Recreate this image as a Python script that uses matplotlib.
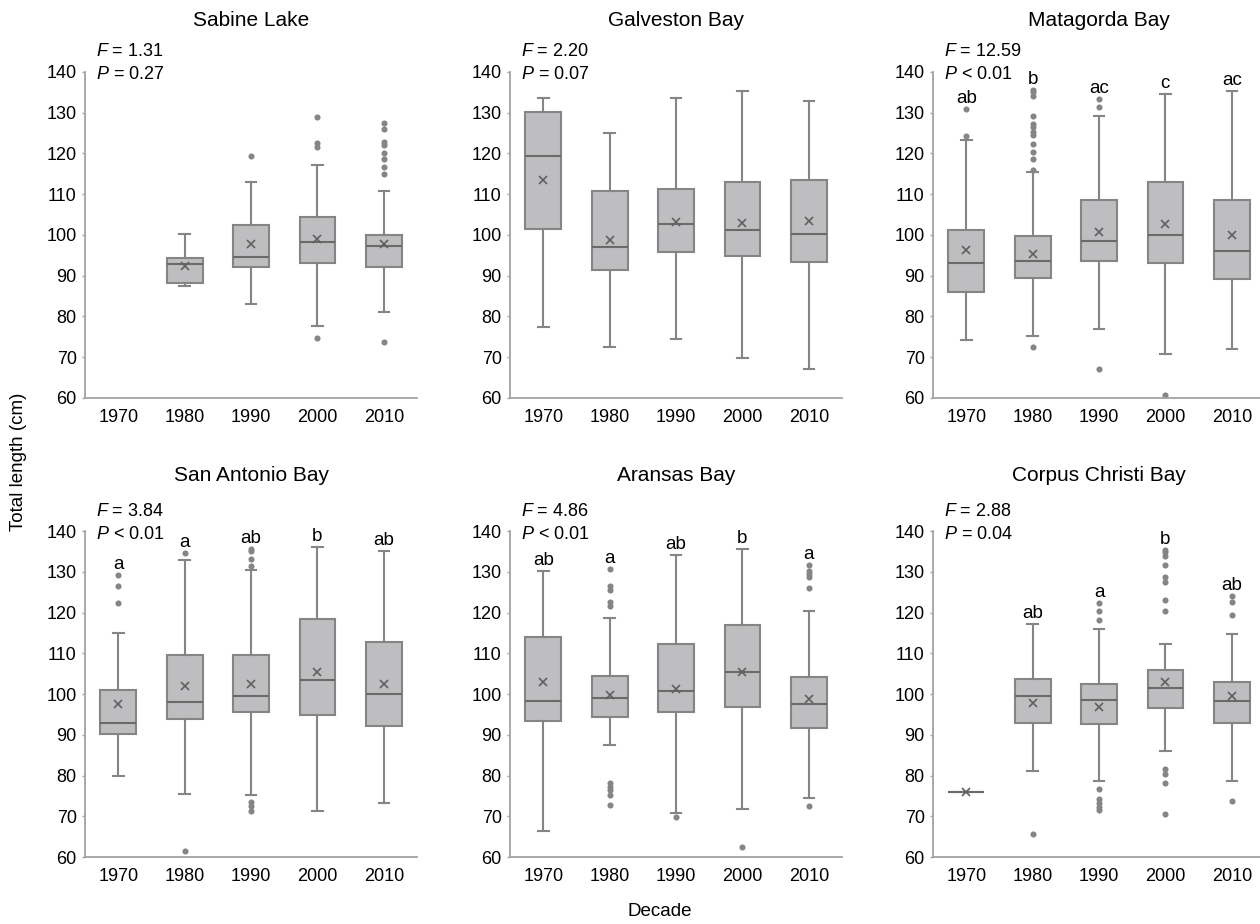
import matplotlib
matplotlib.use("Agg")
import matplotlib.pyplot as plt

plt.rcParams['font.family'] = ['Liberation Sans', 'DejaVu Sans']
plt.rcParams['mathtext.fontset'] = 'custom'
plt.rcParams['mathtext.rm'] = 'Liberation Sans'
plt.rcParams['mathtext.it'] = 'Liberation Sans:italic'

bays = ["Sabine Lake", "Galveston Bay", "Matagorda Bay",
        "San Antonio Bay", "Aransas Bay", "Corpus Christi Bay"]
decades = ["1970", "1980", "1990", "2000", "2010"]
f_values = ["1.31", "2.20", "12.59", "3.84", "4.86", "2.88"]
p_values = ["= 0.27", "= 0.07", "< 0.01", "< 0.01", "< 0.01", "= 0.04"]

# letters of the post-hoc groups, per bay and decade
letters = [
    [None, None, None, None, None],
    [None, None, None, None, None],
    ["ab", "b", "ac", "c", "ac"],
    ["a", "a", "ab", "b", "ab"],
    ["ab", "a", "ab", "b", "a"],
    [None, "ab", "a", "b", "ab"],
]

# box statistics (cm), rows = bays, cols = decades
whis_lo = [
    [None, 87.5, 83.1, 77.7, 81.0],
    [77.3, 72.5, 74.5, 69.9, 67.1],
    [74.3, 75.1, 76.9, 70.8, 71.9],
    [79.9, 75.4, 75.1, 71.3, 73.3],
    [66.4, 87.6, 70.7, 71.7, 74.5],
    [76.0, 81.2, 78.6, 85.9, 78.6],
]
q1 = [
    [None, 88.3, 92.2, 93.2, 92.2],
    [101.5, 91.5, 95.8, 94.9, 93.4],
    [86.1, 89.5, 93.7, 93.0, 89.3],
    [90.3, 93.9, 95.5, 94.8, 92.2],
    [93.5, 94.3, 95.5, 96.8, 91.7],
    [76.0, 92.9, 92.6, 96.6, 93.0],
]
medians = [
    [None, 92.8, 94.7, 98.2, 97.4],
    [119.5, 97.0, 102.8, 101.2, 100.3],
    [93.0, 93.7, 98.4, 99.9, 96.0],
    [92.9, 98.1, 99.6, 103.4, 100.0],
    [98.4, 99.0, 100.7, 105.3, 97.6],
    [76.0, 99.6, 98.6, 101.5, 98.3],
]
q3 = [
    [None, 94.4, 102.5, 104.4, 99.9],
    [130.1, 110.8, 111.2, 113.0, 113.4],
    [101.3, 99.7, 108.7, 113.1, 108.7],
    [101.1, 109.6, 109.6, 118.4, 112.8],
    [114.1, 104.3, 112.2, 116.9, 104.1],
    [76.0, 103.8, 102.5, 105.8, 102.9],
]
whis_hi = [
    [None, 100.2, 113.0, 117.2, 110.8],
    [133.5, 125.0, 133.5, 135.4, 133.0],
    [123.3, 115.4, 129.2, 134.5, 135.4],
    [114.9, 133.0, 130.4, 136.2, 135.2],
    [130.3, 118.6, 134.1, 135.7, 120.4],
    [76.0, 117.3, 116.0, 112.3, 114.8],
]
means = [
    [None, 92.4, 97.7, 99.0, 97.9],
    [113.5, 98.7, 103.1, 102.9, 103.4],
    [96.3, 95.4, 100.8, 102.6, 99.9],
    [97.5, 102.0, 102.4, 105.3, 102.4],
    [103.0, 99.8, 101.3, 105.4, 98.8],
    [76.0, 97.9, 96.8, 103.0, 99.6],
]
outliers = [
    [[], [], [119.3], [129.0, 122.5, 121.7, 74.8],
     [127.6, 126.1, 122.7, 122.0, 120.1, 118.6, 116.8, 115.0, 73.8]],
    [[], [], [], [], []],
    [[130.8, 124.3],
     [135.5, 135.0, 134.2, 129.1, 127.2, 126.4, 125.2, 124.5, 122.3, 120.3,
      118.7, 116.0, 72.6],
     [133.3, 131.3, 67.2], [60.8], []],
    [[129.1, 126.5, 122.3], [134.5, 61.4],
     [135.7, 135.0, 133.2, 131.5, 73.5, 72.4, 71.2], [], []],
    [[], [130.8, 126.4, 125.6, 122.7, 121.5, 78.2, 77.2, 76.4, 75.3, 72.8],
     [69.7], [62.4], [131.7, 130.1, 129.4, 128.7, 126.0, 72.6]],
    [[], [65.6], [122.3, 120.4, 118.2, 76.8, 74.3, 73.2, 72.3, 71.5],
     [135.4, 134.8, 133.9, 131.7, 128.7, 127.5, 123.1, 120.3, 81.6, 80.3, 78.1, 70.5],
     [124.1, 122.5, 119.5, 73.7]],
]

box_fill = "#bebec1"
line_col = "#858585"
spine_col = "#a3a3a3"

fig = plt.figure(figsize=(12.6, 9.24), dpi=100)
lefts = [0.0675, 0.4048, 0.7405]
bottoms = [0.5693, 0.0725]
title_pads = [33, 36]

for i, bay in enumerate(bays):
    ax = fig.add_axes([lefts[i % 3], bottoms[i // 3], 0.2635, 0.3528])
    stats = []
    pos = []
    for j in range(len(decades)):
        if medians[i][j] is None:
            continue
        stats.append(dict(whislo=whis_lo[i][j], q1=q1[i][j], med=medians[i][j],
                          q3=q3[i][j], whishi=whis_hi[i][j], mean=means[i][j],
                          fliers=outliers[i][j]))
        pos.append(j + 1)

    ax.bxp(stats, positions=pos, widths=0.54, capwidths=0.16,
           patch_artist=True, showmeans=True,
           boxprops=dict(facecolor=box_fill, edgecolor=line_col, linewidth=1.5),
           whiskerprops=dict(color=line_col, linewidth=1.5),
           capprops=dict(color=line_col, linewidth=1.5),
           medianprops=dict(color="#6a6a6a", linewidth=1.5),
           meanprops=dict(marker='x', markeredgecolor="#606060",
                          markersize=6, markeredgewidth=1.2),
           flierprops=dict(marker='o', markerfacecolor=line_col,
                           markeredgecolor='none', markersize=4.4))

    # group letters above the highest point of each decade
    for j in range(len(decades)):
        if letters[i][j] is None:
            continue
        top = max([whis_hi[i][j]] + outliers[i][j])
        ax.annotate(letters[i][j], xy=(j + 1, top), xytext=(0, 6),
                    textcoords='offset pixels', ha='center', va='baseline',
                    fontsize=13.5)

    ax.annotate(f"$F$ = {f_values[i]}", xy=(0, 1), xycoords='axes fraction',
                xytext=(11, 20), textcoords='offset pixels',
                ha='left', va='center', fontsize=13)
    ax.annotate(f"$P$ {p_values[i]}", xy=(0, 1), xycoords='axes fraction',
                xytext=(11, -3), textcoords='offset pixels',
                ha='left', va='center', fontsize=13)

    ax.set_title(bay, fontsize=15, pad=title_pads[i // 3])
    ax.set_xlim(0.5, 5.5)
    ax.set_ylim(60, 140)
    ax.set_xticks(range(1, 6))
    ax.set_xticklabels(decades)
    ax.set_yticks(range(60, 141, 10))
    ax.tick_params(labelsize=13, color=spine_col)
    ax.tick_params(axis='x', length=0, pad=8)
    ax.tick_params(axis='y', length=2, width=1, pad=4)
    for side in ['top', 'right']:
        ax.spines[side].set_visible(False)
    for side in ['left', 'bottom']:
        ax.spines[side].set_color(spine_col)
        ax.spines[side].set_linewidth(1.3)

fig.text(0.0143, 0.5, "Total length (cm)", rotation=90, ha='center',
         va='center', fontsize=13.5)
fig.text(0.524, 0.013, "Decade", ha='center', va='center', fontsize=13.5)

plt.savefig("out.png", dpi=100)
